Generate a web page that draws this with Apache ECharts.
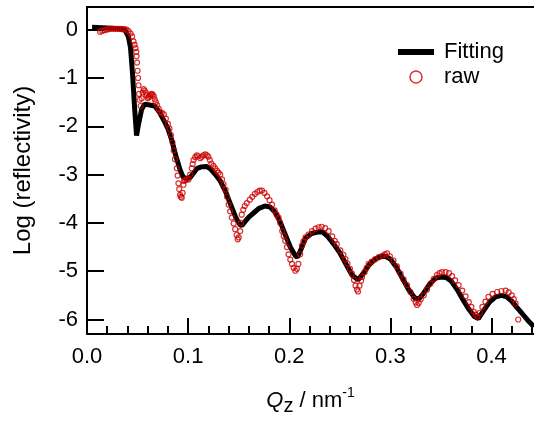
<!DOCTYPE html>
<html>
<head>
<meta charset="utf-8">
<script src="https://cdn.jsdelivr.net/npm/echarts@6/dist/echarts.min.js"></script>
<style>
html,body{margin:0;padding:0;background:#fff;}
#chart{width:534px;height:421px;}
</style>
</head>
<body>
<div id="chart"></div>
<script>
// Fitting curve (Qz in nm^-1, log reflectivity)
const fitQ = [0.005,0.015,0.025,0.035,0.038,0.041,0.043,0.045,0.047,0.049,0.051,0.054,0.057,0.062,0.067,0.072,0.077,0.080,0.084,0.088,0.092,0.095,0.098,0.102,0.106,0.109,0.113,0.118,0.122,0.127,0.132,0.137,0.142,0.147,0.151,0.153,0.156,0.160,0.165,0.170,0.176,0.181,0.186,0.191,0.196,0.201,0.206,0.208,0.211,0.216,0.222,0.228,0.233,0.238,0.244,0.250,0.256,0.262,0.268,0.273,0.279,0.285,0.290,0.295,0.300,0.306,0.312,0.318,0.324,0.328,0.333,0.339,0.345,0.350,0.355,0.360,0.366,0.372,0.378,0.383,0.387,0.392,0.398,0.404,0.410,0.415,0.420,0.425,0.430,0.436,0.442];
const fitLog = [0.05,0.04,0.03,0.01,-0.02,-0.15,-0.37,-0.9,-1.6,-2.19,-1.95,-1.65,-1.54,-1.56,-1.58,-1.72,-1.92,-2.05,-2.3,-2.62,-2.9,-3.05,-3.08,-3.06,-2.95,-2.87,-2.84,-2.83,-2.88,-3.0,-3.14,-3.35,-3.62,-3.88,-4.03,-4.06,-3.98,-3.88,-3.79,-3.70,-3.65,-3.67,-3.78,-3.98,-4.24,-4.50,-4.68,-4.71,-4.58,-4.32,-4.22,-4.19,-4.19,-4.28,-4.44,-4.62,-4.85,-5.08,-5.18,-5.05,-4.87,-4.75,-4.70,-4.69,-4.75,-4.92,-5.15,-5.38,-5.55,-5.58,-5.45,-5.26,-5.14,-5.12,-5.13,-5.20,-5.38,-5.60,-5.80,-5.94,-5.98,-5.82,-5.64,-5.53,-5.50,-5.53,-5.62,-5.75,-5.87,-6.02,-6.15];

// Raw measured data
const rawQ = [0.013,0.015,0.017,0.019,0.021,0.023,0.025,0.027,0.029,0.031,0.033,0.035,0.037,0.039,0.041,0.043,0.0446,0.046,0.047,0.048,0.0487,0.049,0.0495,0.050,0.0505,0.051,0.0515,0.052,0.053,0.054,0.055,0.056,0.057,0.058,0.059,0.060,0.061,0.062,0.063,0.064,0.065,0.066,0.067,0.068,0.0693,0.071,0.0726,0.074,0.076,0.078,0.080,0.0815,0.083,0.0845,0.0858,0.087,0.0888,0.0896,0.0904,0.0912,0.092,0.0928,0.0937,0.0945,0.0954,0.096,0.097,0.0985,0.1003,0.102,0.1036,0.1045,0.1053,0.107,0.1086,0.110,0.112,0.1135,0.115,0.117,0.1185,0.120,0.1215,0.123,0.125,0.1267,0.1285,0.130,0.1317,0.1335,0.135,0.137,0.1385,0.140,0.1415,0.1432,0.145,0.1465,0.148,0.149,0.150,0.1515,0.1522,0.153,0.1545,0.156,0.158,0.161,0.1635,0.166,0.1685,0.1707,0.173,0.1755,0.178,0.1805,0.183,0.1855,0.1875,0.1894,0.191,0.193,0.1945,0.196,0.1977,0.1993,0.201,0.2027,0.2043,0.206,0.2075,0.209,0.2108,0.2125,0.214,0.216,0.219,0.2225,0.226,0.229,0.232,0.2355,0.239,0.2425,0.245,0.247,0.2505,0.2535,0.2555,0.2575,0.260,0.262,0.264,0.2655,0.267,0.268,0.2695,0.271,0.272,0.2745,0.2765,0.2785,0.2815,0.285,0.2885,0.292,0.2945,0.2967,0.2995,0.303,0.3065,0.310,0.313,0.3165,0.3198,0.323,0.325,0.3264,0.328,0.330,0.333,0.3363,0.3396,0.343,0.346,0.3485,0.351,0.3545,0.358,0.361,0.364,0.3675,0.371,0.3743,0.3775,0.380,0.3825,0.3843,0.386,0.3885,0.391,0.394,0.397,0.401,0.4056,0.4098,0.414,0.417,0.420,0.422,0.4238,0.4264];
const rawLog = [-0.04,-0.02,-0.01,0.0,0.01,0.02,0.02,0.02,0.02,0.02,0.02,0.01,0.01,0.0,-0.03,-0.08,-0.14,-0.24,-0.31,-0.38,-0.46,-0.55,-0.68,-0.85,-1.0,-1.15,-1.33,-1.45,-1.58,-1.42,-1.3,-1.23,-1.26,-1.3,-1.36,-1.42,-1.40,-1.37,-1.34,-1.33,-1.35,-1.38,-1.44,-1.5,-1.56,-1.64,-1.71,-1.72,-1.75,-1.84,-1.95,-2.05,-2.18,-2.33,-2.5,-2.68,-2.87,-3.02,-3.18,-3.3,-3.42,-3.46,-3.48,-3.38,-3.21,-3.13,-3.11,-3.1,-3.1,-3.0,-2.87,-2.78,-2.70,-2.64,-2.6,-2.62,-2.66,-2.63,-2.6,-2.58,-2.6,-2.63,-2.7,-2.77,-2.82,-2.87,-2.92,-2.96,-3.0,-3.1,-3.2,-3.31,-3.46,-3.62,-3.76,-3.89,-4.01,-4.13,-4.25,-4.34,-4.3,-4.17,-4.0,-3.83,-3.73,-3.65,-3.59,-3.52,-3.46,-3.40,-3.36,-3.33,-3.33,-3.38,-3.45,-3.53,-3.62,-3.74,-3.83,-3.89,-4.0,-4.17,-4.27,-4.37,-4.5,-4.65,-4.76,-4.85,-4.93,-4.99,-4.95,-4.85,-4.65,-4.47,-4.38,-4.30,-4.24,-4.17,-4.12,-4.09,-4.08,-4.11,-4.17,-4.28,-4.37,-4.44,-4.57,-4.66,-4.75,-4.84,-4.95,-5.05,-5.18,-5.3,-5.38,-5.42,-5.3,-5.2,-5.12,-5.02,-4.93,-4.85,-4.8,-4.75,-4.71,-4.68,-4.65,-4.63,-4.69,-4.78,-4.9,-5.05,-5.17,-5.29,-5.43,-5.57,-5.65,-5.70,-5.66,-5.58,-5.50,-5.38,-5.26,-5.16,-5.08,-5.04,-5.02,-5.02,-5.04,-5.1,-5.19,-5.29,-5.40,-5.52,-5.64,-5.74,-5.84,-5.9,-5.94,-5.86,-5.74,-5.63,-5.53,-5.47,-5.43,-5.41,-5.40,-5.44,-5.50,-5.58,-5.67,-6.0];

// Axis ticks
const xMajorTicks = [0, 0.1, 0.2, 0.3, 0.4];
const xMinorTicks = [0.02, 0.04, 0.06, 0.08, 0.12, 0.14, 0.16, 0.18, 0.22, 0.24, 0.26, 0.28, 0.32, 0.34, 0.36, 0.38, 0.42, 0.44];
const yTicks = [0, -1, -2, -3, -4, -5, -6];

const FONT = "'Liberation Sans', Arial, Helvetica, sans-serif";
const X_MIN = 0, X_MAX = 0.442, Y_MIN = -6.3, Y_MAX = 0.47;

const fitData = fitQ.map((q, i) => [q, fitLog[i]]);
const rawData = rawQ.map((q, i) => [q, rawLog[i]]);

const chart = echarts.init(document.getElementById('chart'), null, {renderer: 'canvas'});
const axisLine = {show: true, onZero: false, lineStyle: {color: '#000', width: 2}};
chart.setOption({
  animation: false,
  backgroundColor: '#fff',
  textStyle: {fontFamily: FONT, color: '#000'},
  grid: {left: 87, right: 0, top: 7, bottom: 83, containLabel: false},
  legend: {
    orient: 'vertical',
    left: 393, top: 36,
    itemWidth: 36, itemHeight: 12, itemGap: 3,
    textStyle: {fontFamily: FONT, fontSize: 22, color: '#000', lineHeight: 22, padding: [0, 0, 0, 5]},
    data: [
      {name: 'Fitting', icon: 'path://M0 0H36V6H0Z', itemStyle: {color: '#000'}},
      {name: 'raw', itemStyle: {borderWidth: 1.5}}
    ]
  },
  xAxis: [
    {
      type: 'value', min: X_MIN, max: X_MAX, position: 'bottom',
      axisLine: axisLine,
      axisTick: {show: true, inside: true, length: 16, customValues: xMajorTicks, lineStyle: {color: '#000', width: 2}},
      axisLabel: {customValues: xMajorTicks, formatter: v => v.toFixed(1), margin: 12, fontSize: 22, color: '#000', fontFamily: FONT},
      splitLine: {show: false},
      name: '{q|Q}{z|z}{t| / nm}{s|-1}',
      nameLocation: 'middle', nameGap: 52,
      nameTextStyle: {
        rich: {
          q: {fontSize: 22, fontStyle: 'italic', fontFamily: FONT, color: '#000', lineHeight: 30},
          z: {fontSize: 20, fontFamily: FONT, color: '#000', lineHeight: 19, verticalAlign: 'bottom'},
          t: {fontSize: 22, fontFamily: FONT, color: '#000', lineHeight: 30},
          s: {fontSize: 14, fontFamily: FONT, color: '#000', lineHeight: 18, verticalAlign: 'top'}
        }
      }
    },
    {
      type: 'value', min: X_MIN, max: X_MAX, position: 'bottom',
      axisLine: {show: false, onZero: false},
      axisTick: {show: true, inside: true, length: 8, customValues: xMinorTicks, lineStyle: {color: '#000', width: 2}},
      axisLabel: {show: false},
      splitLine: {show: false}
    },
    {
      type: 'value', min: X_MIN, max: X_MAX, position: 'top',
      axisLine: axisLine,
      axisTick: {show: false},
      axisLabel: {show: false},
      splitLine: {show: false}
    }
  ],
  yAxis: {
    type: 'value', min: Y_MIN, max: Y_MAX,
    axisLine: axisLine,
    axisTick: {show: true, inside: true, length: 17, customValues: yTicks, lineStyle: {color: '#000', width: 2}},
    axisLabel: {customValues: yTicks, formatter: v => String(v), margin: 9, fontSize: 22, color: '#000', fontFamily: FONT},
    splitLine: {show: false},
    name: 'Log (reflectivity)',
    nameLocation: 'middle', nameGap: 52,
    nameTextStyle: {fontSize: 24, lineHeight: 24, fontFamily: FONT, color: '#000'}
  },
  series: [
    {
      name: 'Fitting', type: 'line', data: fitData, xAxisIndex: 0,
      symbol: 'none', showSymbol: false, smooth: false,
      lineStyle: {color: '#000', width: 5}, itemStyle: {color: '#000'},
      z: 2
    },
    {
      name: 'raw', type: 'scatter', data: rawData, xAxisIndex: 0,
      symbol: 'circle', symbolSize: 5,
      itemStyle: {color: 'rgba(0,0,0,0)', borderColor: '#cc0000', borderWidth: 1.2},
      z: 3
    }
  ]
});
</script>
</body>
</html>
